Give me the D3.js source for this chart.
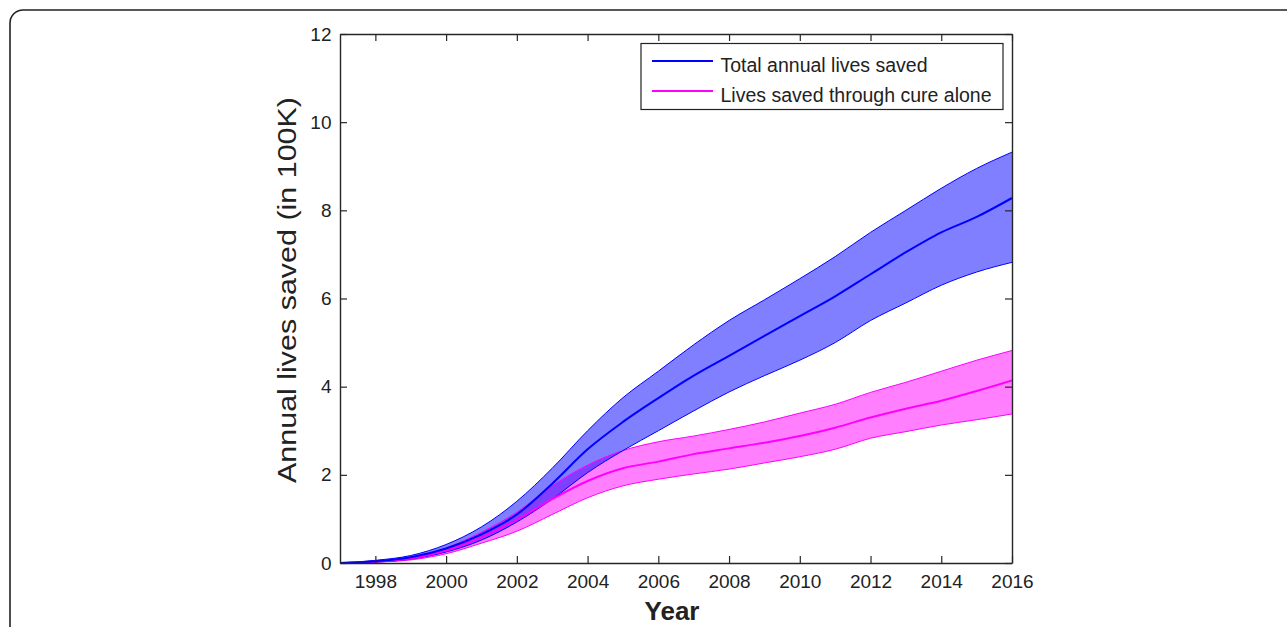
<!DOCTYPE html>
<html>
<head>
<meta charset="utf-8">
<script src="https://cdn.jsdelivr.net/npm/d3@7"></script>
<style>
  html, body { margin: 0; padding: 0; background: #fff; }
  svg { display: block; }
  text { font-family: "Liberation Sans", Arial, sans-serif; fill: #222; }
</style>
</head>
<body>
<svg id="chart" width="1287" height="627"></svg>
<script>
// ---- data ----
const years = [1997,1998,1999,2000,2001,2002,2003,2004,2005,2006,2007,2008,2009,2010,2011,2012,2013,2014,2015,2016];
const totalMean  = [0,0.04,0.13,0.33,0.65,1.10,1.80,2.58,3.20,3.74,4.25,4.70,5.15,5.60,6.05,6.55,7.05,7.50,7.85,8.28];
const totalUpper = [0,0.06,0.17,0.42,0.82,1.40,2.15,3.00,3.75,4.35,4.95,5.50,5.97,6.45,6.95,7.50,8.00,8.50,8.95,9.32];
const totalLower = [0,0.02,0.09,0.25,0.52,0.93,1.45,2.05,2.55,3.00,3.45,3.88,4.25,4.60,5.00,5.50,5.90,6.30,6.60,6.82];
const cureMean   = [0,0.03,0.10,0.28,0.58,0.98,1.45,1.86,2.15,2.30,2.47,2.60,2.73,2.88,3.07,3.30,3.50,3.68,3.90,4.14];
const cureUpper  = [0,0.04,0.13,0.34,0.70,1.15,1.75,2.22,2.55,2.75,2.88,3.03,3.20,3.40,3.60,3.87,4.10,4.35,4.60,4.82];
const cureLower  = [0,0.02,0.07,0.21,0.45,0.72,1.10,1.48,1.75,1.90,2.02,2.13,2.27,2.41,2.58,2.83,2.98,3.13,3.25,3.38];
const xTicks = [1998,2000,2002,2004,2006,2008,2010,2012,2014,2016];
const yTicks = [0,2,4,6,8,10,12];
const seriesNames = ["Total annual lives saved", "Lives saved through cure alone"];
const xTitle = "Year";
const yTitle = "Annual lives saved (in 100K)";

// ---- layout ----
const svg = d3.select("#chart");
const L = 340, R = 1012, T = 34, B = 563;
const x = d3.scaleLinear().domain([1997, 2016]).range([L, R]);
const y = d3.scaleLinear().domain([0, 12]).range([B, T]);
const axisColor = "#262626";

// outer rounded frame
svg.append("rect").attr("x", 10).attr("y", 10).attr("width", 1320).attr("height", 720)
  .attr("rx", 13).attr("ry", 13).attr("fill", "none").attr("stroke", "#222").attr("stroke-width", 1.6);

const clip = svg.append("defs").append("clipPath").attr("id", "plotclip");
clip.append("rect").attr("x", L).attr("y", T).attr("width", R - L).attr("height", B - T);

const g = svg.append("g").attr("clip-path", "url(#plotclip)");

function band(up, lo) {
  return d3.area().x((d, i) => x(years[i])).y0((d, i) => y(lo[i])).y1((d, i) => y(up[i]))
    .curve(d3.curveMonotoneX)(years);
}
function line(vals) {
  return d3.line().x((d, i) => x(years[i])).y((d, i) => y(vals[i])).curve(d3.curveMonotoneX)(years);
}

// fills
g.append("path").attr("d", band(cureUpper, cureLower)).attr("fill", "#ff00ff").attr("fill-opacity", 0.5);
g.append("path").attr("d", band(totalUpper, totalLower)).attr("fill", "#0000ff").attr("fill-opacity", 0.5);
// edges
[[cureUpper, "#ff00ff"], [cureLower, "#ff00ff"], [totalUpper, "#0000ff"], [totalLower, "#0000ff"]].forEach(([v, c]) => {
  g.append("path").attr("d", line(v)).attr("fill", "none").attr("stroke", c).attr("stroke-width", 1);
});
// means
g.append("path").attr("d", line(cureMean)).attr("fill", "none").attr("stroke", "#ff00ff").attr("stroke-width", 2);
g.append("path").attr("d", line(totalMean)).attr("fill", "none").attr("stroke", "#0000ff").attr("stroke-width", 2);

// axes (MATLAB style box with inward ticks)
const tickLen = 7;
const axB = svg.append("g").attr("transform", `translate(0,${B})`)
  .call(d3.axisBottom(x).tickValues(xTicks).tickFormat(d3.format("d")).tickSizeInner(-tickLen).tickSizeOuter(0).tickPadding(12));
const axT = svg.append("g").attr("transform", `translate(0,${T})`)
  .call(d3.axisTop(x).tickValues(xTicks).tickFormat("").tickSizeInner(-tickLen).tickSizeOuter(0));
const axL = svg.append("g").attr("transform", `translate(${L},0)`)
  .call(d3.axisLeft(y).tickValues(yTicks).tickFormat(d3.format("d")).tickSizeInner(-tickLen).tickSizeOuter(0).tickPadding(8.5));
const axR = svg.append("g").attr("transform", `translate(${R},0)`)
  .call(d3.axisRight(y).tickValues(yTicks).tickFormat("").tickSizeInner(-tickLen).tickSizeOuter(0));
[axB, axT, axL, axR].forEach(a => {
  a.attr("font-size", null).attr("font-family", null);
  a.select(".domain").attr("stroke", axisColor).attr("stroke-width", 1.4);
  a.selectAll(".tick line").attr("stroke", axisColor).attr("stroke-width", 1.2);
  a.selectAll("text").style("font-size", "19px").style("fill", "#222")
    .style("font-family", "'Liberation Sans', Arial, sans-serif");
});
axB.selectAll("text").attr("dy", "0.71em");

// axis titles
svg.append("text").attr("x", 672).attr("y", 620).attr("text-anchor", "middle")
  .attr("font-size", "26px").attr("font-weight", "bold").text(xTitle);
svg.append("text").attr("transform", "translate(296,290) rotate(-90)").attr("text-anchor", "middle")
  .attr("font-size", "25.5px").attr("textLength", 386).attr("lengthAdjust", "spacingAndGlyphs").text(yTitle);

// legend
const lg = svg.append("g");
lg.append("rect").attr("x", 641).attr("y", 43.5).attr("width", 362).attr("height", 66)
  .attr("fill", "#fff").attr("stroke", "#222").attr("stroke-width", 1.2);
const legColors = ["#0000ff", "#ff00ff"];
seriesNames.forEach((name, i) => {
  const ly = 61 + i * 30;
  lg.append("line").attr("x1", 652).attr("x2", 713).attr("y1", ly).attr("y2", ly)
    .attr("stroke", legColors[i]).attr("stroke-width", 2);
  lg.append("text").attr("x", 720.5).attr("y", 71.7 + i * 30).attr("font-size", "19.5px").text(name);
});
</script>
</body>
</html>
